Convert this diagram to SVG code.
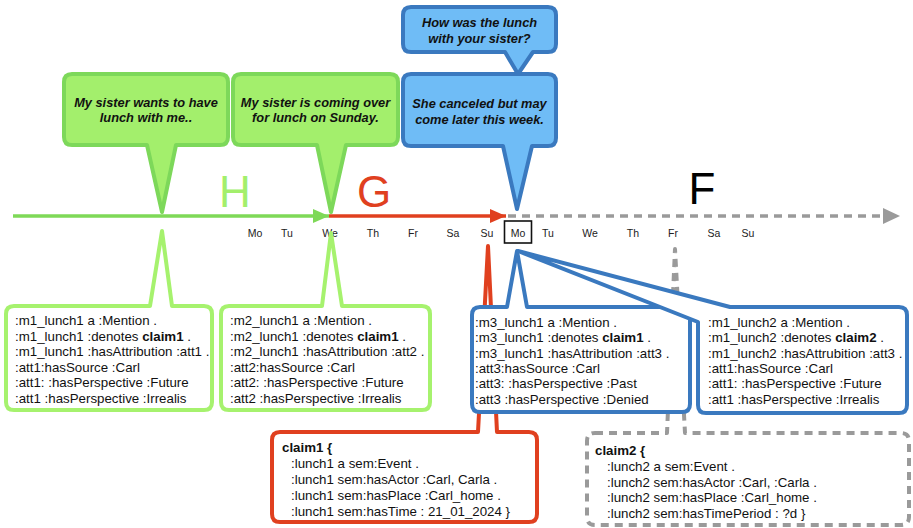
<svg xmlns="http://www.w3.org/2000/svg" width="913" height="528" viewBox="0 0 913 528">
<style>
.bub{stroke-width:4;stroke-linejoin:round}
.gb{fill:#a3ef6c;stroke:#7dd85a}
.bb{fill:#6fbcf6;stroke:#3a79bf}
.q{font-family:"Liberation Sans",Arial,sans-serif;font-size:12.8px;font-weight:bold;font-style:italic;fill:#111;text-anchor:middle}
.t{font-family:"Liberation Sans",Arial,sans-serif;font-size:13.3px;fill:#111}
.d{font-family:"Liberation Sans",Arial,sans-serif;font-size:10.5px;fill:#222;text-anchor:middle}
.big{font-family:"Liberation Sans",Arial,sans-serif;font-size:44px;text-anchor:middle}
.box{fill:#fff;stroke-width:4;stroke-linejoin:round}
b,.b{font-weight:bold}
</style>
<defs>
<marker id="ag" markerWidth="16" markerHeight="14" refX="16" refY="7" orient="auto" markerUnits="userSpaceOnUse"><path d="M0,0 L16,7 L0,14 Z" fill="#7ed957"/></marker>
<marker id="ar" markerWidth="16" markerHeight="14" refX="16" refY="7" orient="auto" markerUnits="userSpaceOnUse"><path d="M0,0 L16,7 L0,14 Z" fill="#e0401f"/></marker>
<marker id="ay" markerWidth="17" markerHeight="16" refX="17" refY="8" orient="auto" markerUnits="userSpaceOnUse"><path d="M0,0 L17,8 L0,16 Z" fill="#9a9a9a"/></marker>
</defs>

<g id="connectors">
<line x1="13" y1="216" x2="329" y2="216" stroke="#7ed957" stroke-width="3.5" marker-end="url(#ag)"/>
<line x1="329" y1="216" x2="506" y2="216" stroke="#e0401f" stroke-width="3.5" marker-end="url(#ar)"/>
<line x1="508" y1="216" x2="900" y2="216" stroke="#9a9a9a" stroke-width="3.5" stroke-dasharray="8,6" marker-end="url(#ay)"/>
</g>

<g id="phases">
<text class="big" x="235" y="207" fill="#a3ef6c">H</text>
<text class="big" x="374" y="207" fill="#e0401f">G</text>
<text class="big" x="702" y="204" fill="#000">F</text>
</g>

<g id="days">
<text class="d" x="255" y="237">Mo</text>
<text class="d" x="287" y="237">Tu</text>
<text class="d" x="330" y="237">We</text>
<text class="d" x="373" y="237">Th</text>
<text class="d" x="413" y="237">Fr</text>
<text class="d" x="453" y="237">Sa</text>
<text class="d" x="487" y="237">Su</text>
<text class="d" x="518" y="237">Mo</text>
<text class="d" x="548" y="237">Tu</text>
<text class="d" x="590" y="237">We</text>
<text class="d" x="633" y="237">Th</text>
<text class="d" x="673" y="237">Fr</text>
<text class="d" x="714" y="237">Sa</text>
<text class="d" x="748" y="237">Su</text>
<rect x="504.5" y="221" width="27" height="22" fill="none" stroke="#111" stroke-width="1.6"/>
</g>

<g id="utt1">
<path class="bub gb" d="M72,74 H220 Q228,74 228,82 V137 Q228,145 220,145 H176 L162,212 L147,145 H72 Q64,145 64,137 V82 Q64,74 72,74 Z"/>
<text class="q" x="146" y="106.5">My sister wants to have</text>
<text class="q" x="146" y="122">lunch with me..</text>
</g>

<g id="utt2">
<path class="bub gb" d="M241,74 H390 Q398,74 398,82 V137 Q398,145 390,145 H346 L331,212 L317,145 H241 Q233,145 233,137 V82 Q233,74 241,74 Z"/>
<text class="q" x="315.5" y="106.5">My sister is coming over</text>
<text class="q" x="315.5" y="122">for lunch on Sunday.</text>
</g>

<g id="utt4">
<path class="bub bb" d="M411,7 H548 Q556,7 556,15 V44 Q556,52 548,52 H533 L518,74 L505,52 H411 Q403,52 403,44 V15 Q403,7 411,7 Z"/>
<text class="q" x="479.5" y="26.5">How was the lunch</text>
<text class="q" x="479.5" y="42.5">with your sister?</text>
</g>

<g id="utt3">
<path class="bub bb" d="M411,74 H548 Q556,74 556,82 V138 Q556,146 548,146 H532 L517,209 L503,146 H411 Q403,146 403,138 V82 Q403,74 411,74 Z"/>
<text class="q" x="479.5" y="107.5">She canceled but may</text>
<text class="q" x="479.5" y="123.5">come later this week.</text>
</g>

<g id="claim1">
<path class="box" stroke="#e0401f" d="M280,432 H478 L488,246 L497,432 H529 Q537,432 537,440 V514 Q537,522 529,522 H280 Q272,522 272,514 V440 Q272,432 280,432 Z"/>
<text class="t" x="282" y="451.5"><tspan class="b">claim1 {</tspan></text>
<text class="t" x="291" y="467.5">:lunch1 a sem:Event .</text>
<text class="t" x="291" y="483.5">:lunch1 sem:hasActor :Carl, Carla .</text>
<text class="t" x="291" y="499.5">:lunch1 sem:hasPlace :Carl_home .</text>
<text class="t" x="291" y="515.5">:lunch1 sem:hasTime : 21_01_2024 }</text>
</g>

<g id="claim2">
<path class="box" stroke="#9a9a9a" stroke-dasharray="8,6" d="M595,433 H667 L675,249 L685,433 H901 Q909,433 909,441 V517 Q909,525 901,525 H595 Q587,525 587,517 V441 Q587,433 595,433 Z"/>
<text class="t" x="595" y="454.5"><tspan class="b">claim2 {</tspan></text>
<text class="t" x="607" y="470.5">:lunch2 a sem:Event .</text>
<text class="t" x="607" y="486.5">:lunch2 sem:hasActor :Carl, :Carla .</text>
<text class="t" x="607" y="501.5">:lunch2 sem:hasPlace :Carl_home .</text>
<text class="t" x="607" y="517.5">:lunch2 sem:hasTimePeriod : ?d }</text>
</g>

<g id="mention1">
<path class="box" stroke="#a6f26e" d="M14,306 H150 L162,231 L172,306 H204 Q212,306 212,314 V402 Q212,410 204,410 H14 Q6,410 6,402 V314 Q6,306 14,306 Z"/>
<text class="t" x="15" y="325">:m1_lunch1 a :Mention .</text>
<text class="t" x="15" y="340.5">:m1_lunch1 :denotes <tspan class="b">claim1</tspan> .</text>
<text class="t" x="15" y="356">:m1_lunch1 :hasAttribution :att1 .</text>
<text class="t" x="15" y="371.5">:att1:hasSource :Carl</text>
<text class="t" x="15" y="387">:att1: :hasPerspective :Future</text>
<text class="t" x="15" y="402.5">:att1 :hasPerspective :Irrealis</text>
</g>

<g id="mention2">
<path class="box" stroke="#a6f26e" d="M229,306 H322 L331,233 L342,306 H422 Q430,306 430,314 V402 Q430,410 422,410 H229 Q221,410 221,402 V314 Q221,306 229,306 Z"/>
<text class="t" x="230" y="325">:m2_lunch1 a :Mention .</text>
<text class="t" x="230" y="340.5">:m2_lunch1 :denotes <tspan class="b">claim1</tspan> .</text>
<text class="t" x="230" y="356">:m2_lunch1 :hasAttribution :att2 .</text>
<text class="t" x="230" y="371.5">:att2:hasSource :Carl</text>
<text class="t" x="230" y="387">:att2: :hasPerspective :Future</text>
<text class="t" x="230" y="402.5">:att2 :hasPerspective :Irrealis</text>
</g>

<g id="mention3">
<path class="box" stroke="#3a79bf" d="M480,307 H507 L517,251 L527,307 H682 Q690,307 690,315 V404 Q690,412 682,412 H480 Q472,412 472,404 V315 Q472,307 480,307 Z"/>
<text class="t" x="475" y="327">:m3_lunch1 a :Mention .</text>
<text class="t" x="475" y="342.3">:m3_lunch1 :denotes <tspan class="b">claim1</tspan> .</text>
<text class="t" x="475" y="357.6">:m3_lunch1 :hasAttribution :att3 .</text>
<text class="t" x="475" y="372.9">:att3:hasSource :Carl</text>
<text class="t" x="475" y="388.2">:att3: :hasPerspective :Past</text>
<text class="t" x="475" y="403.5">:att3 :hasPerspective :Denied</text>
</g>

<g id="mention4">
<path class="box" stroke="#3a79bf" d="M730,307 H899 Q907,307 907,315 V405 Q907,413 899,413 H706 Q698,413 698,405 V322 L518,251 Z"/>
<text class="t" x="708" y="327">:m1_lunch2 a :Mention .</text>
<text class="t" x="708" y="342.3">:m1_lunch2 :denotes <tspan class="b">claim2</tspan> .</text>
<text class="t" x="708" y="357.6">:m1_lunch2 :hasAttrubition :att3 .</text>
<text class="t" x="708" y="372.9">:att1:hasSource :Carl</text>
<text class="t" x="708" y="388.2">:att1: :hasPerspective :Future</text>
<text class="t" x="708" y="403.5">:att1 :hasPerspective :Irrealis</text>
</g>
</svg>
